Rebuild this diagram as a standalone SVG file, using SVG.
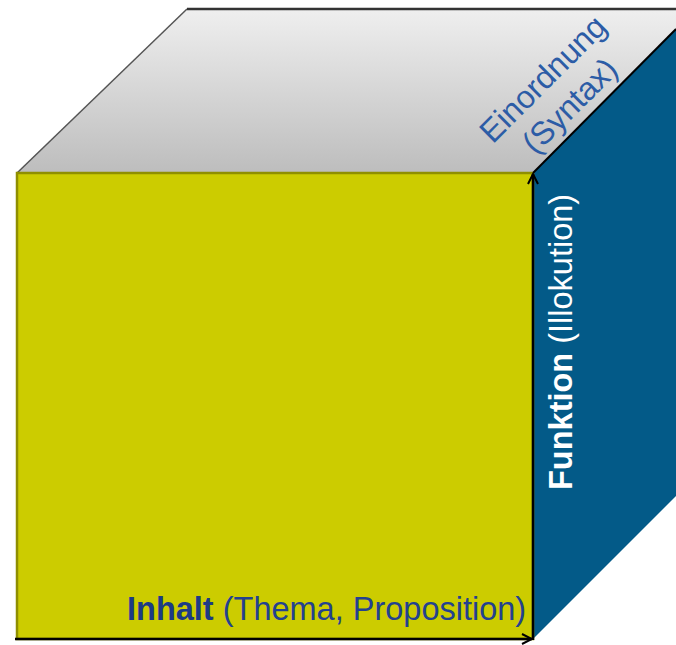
<svg xmlns="http://www.w3.org/2000/svg" width="676" height="645" viewBox="0 0 676 645">
<defs>
<linearGradient id="topGrad" x1="0" y1="0" x2="0" y2="1">
<stop offset="0" stop-color="#EFEFEF"/>
<stop offset="1" stop-color="#BDBDBD"/>
</linearGradient>
<marker id="arr" viewBox="0 0 12 12" refX="11" refY="6" markerWidth="12" markerHeight="12" markerUnits="userSpaceOnUse" orient="auto">
<path d="M1,1 L11,6 L1,11" fill="none" stroke="#000" stroke-width="2"/>
</marker>
<style>
.lbl{font-family:"Liberation Sans",Arial,sans-serif;font-size:32.5px}
.e{font-size:32px}
.b{font-weight:bold}
</style>
</defs>
<g id="top-face">
<polygon points="17,173 187,9 676,9 676,29 533,173" fill="url(#topGrad)"/>
<line x1="17" y1="173" x2="187" y2="9" stroke="#555" stroke-width="1.5"/>
<line x1="187" y1="9" x2="676" y2="9" stroke="#333" stroke-width="2.5"/>
</g>
<g id="right-face">
<polygon points="533,173 676,29 676,496 533,639" fill="#035A88"/>
</g>
<g id="front-face">
<rect x="17" y="173" width="516" height="466" fill="#CCCC00" stroke="#8F8F00" stroke-width="2.5"/>
</g>
<g id="connectors">
<line x1="533" y1="173" x2="676" y2="29" stroke="#000" stroke-width="2"/>
<line x1="15" y1="639" x2="532" y2="639" stroke="#000" stroke-width="2.5" marker-end="url(#arr)"/>
<line x1="533" y1="640" x2="533" y2="174" stroke="#000" stroke-width="2.5" marker-end="url(#arr)"/>
</g>
<g id="label-inhalt">
<text class="lbl" x="127" y="620" fill="#23418F"><tspan class="b" fill="#1C3A86">Inhalt</tspan> (Thema,  Proposition)</text>
</g>
<g id="label-funktion">
<text class="lbl" transform="translate(572,490) rotate(-90)" fill="#FFFFFF"><tspan class="b">Funktion</tspan> (Illokution)</text>
</g>
<g id="label-einordnung">
<g transform="translate(564,100) rotate(-45)">
<text class="lbl e" x="0" y="-19" text-anchor="middle" fill="#2C5CA6">Einordnung</text>
<text class="lbl e" x="0" y="19" text-anchor="middle" fill="#2C5CA6">(Syntax)</text>
</g>
</g>
</svg>
